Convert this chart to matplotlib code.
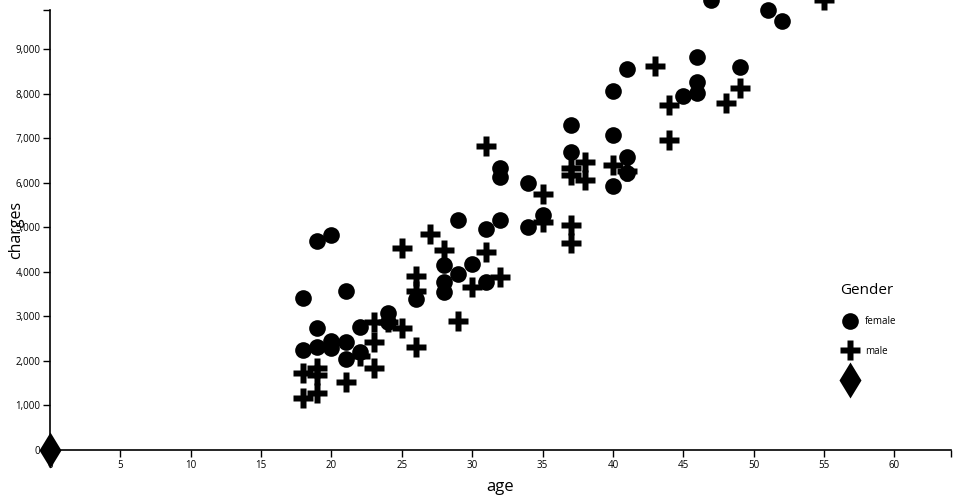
#scatter of charges by age and gender
import matplotlib.pyplot as plt
from matplotlib.ticker import FuncFormatter

plt.rcParams['font.family'] = ['Open Sans', 'DejaVu Sans']

#data
female_age = [18, 18, 19, 19, 19, 20, 20, 20, 21, 21, 21, 22, 22, 24, 24, 26,
              28, 28, 28, 29, 29, 30, 31, 31, 32, 32, 32, 34, 34, 35,
              37, 37, 40, 40, 40, 41, 41, 41, 45, 46, 46, 46, 47, 49, 51, 52]
female_charges = [3410, 2245, 4690, 2740, 2310, 4825, 2445, 2290, 3570, 2425, 2040, 2760, 2200, 3070, 2870, 3390,
                  4150, 3770, 3545, 5160, 3950, 4170, 4960, 3770, 6330, 6125, 5160, 5990, 5000, 5275,
                  7290, 6690, 8060, 7070, 5925, 8550, 6575, 6215, 7940, 8820, 8260, 8020, 10100, 8600, 9875, 9630]

male_age = [18, 18, 19, 19, 19, 21, 22, 23, 23, 23, 24, 25, 25, 26, 26, 26,
            27, 28, 29, 30, 31, 31, 32, 35, 35, 37, 37, 37, 37, 38, 38,
            40, 41, 43, 44, 44, 48, 49, 55]
male_charges = [1720, 1170, 1840, 1680, 1280, 1530, 2110, 2870, 2420, 1840, 2870, 4530, 2740, 3905, 3560, 2310,
                4850, 4490, 2895, 3660, 6820, 4440, 3880, 5745, 5115, 6330, 6170, 5050, 4650, 6460, 6060,
                6395, 6260, 8620, 7740, 6960, 7790, 8120, 10100]

other_age = [0]
other_charges = [0]

#draw graph
fig = plt.figure(figsize=(9.6, 5), dpi=100)
ax = fig.add_axes([50/960, 50/500, 900.7/960, 440/500])

ax.plot(female_age, female_charges, 'o', ms=12, color='black', mec='none',
        label='female', clip_on=False)
ax.plot(male_age, male_charges, 'P', ms=14, color='black', mec='none',
        label='male', clip_on=False)
ax.plot(other_age, other_charges, 'd', ms=18, color='black', mec='none',
        label=' ', clip_on=False, zorder=5)

ax.set_xlim(0, 64)
ax.set_ylim(0, 9875)
ax.set_xticks(range(0, 61, 5))
ax.set_yticks(range(0, 9001, 1000))
ax.set_xticks([64], minor=True)
ax.set_yticks([9875], minor=True)
ax.yaxis.set_major_formatter(FuncFormatter(lambda v, p: f'{int(v):,}'))
ax.tick_params(which='both', direction='out', length=5, width=1, labelsize=7, pad=2)

for s in ['top', 'right']:
    ax.spines[s].set_visible(False)
for s in ['left', 'bottom']:
    ax.spines[s].set_linewidth(1.2)

ax.set_xlabel('age', fontsize=12)
ax.set_ylabel('charges', fontsize=11.5)
ax.xaxis.set_label_coords(0.5, -0.065)
ax.yaxis.set_label_coords(-0.029, 0.5)

leg = ax.legend(title='Gender', frameon=False, loc='upper left',
                bbox_to_anchor=(0.868, 0.40), fontsize=7, title_fontsize=11,
                labelspacing=1.9, handletextpad=0.5, alignment='left')

plt.savefig('out.png', dpi=100)
plt.close()
